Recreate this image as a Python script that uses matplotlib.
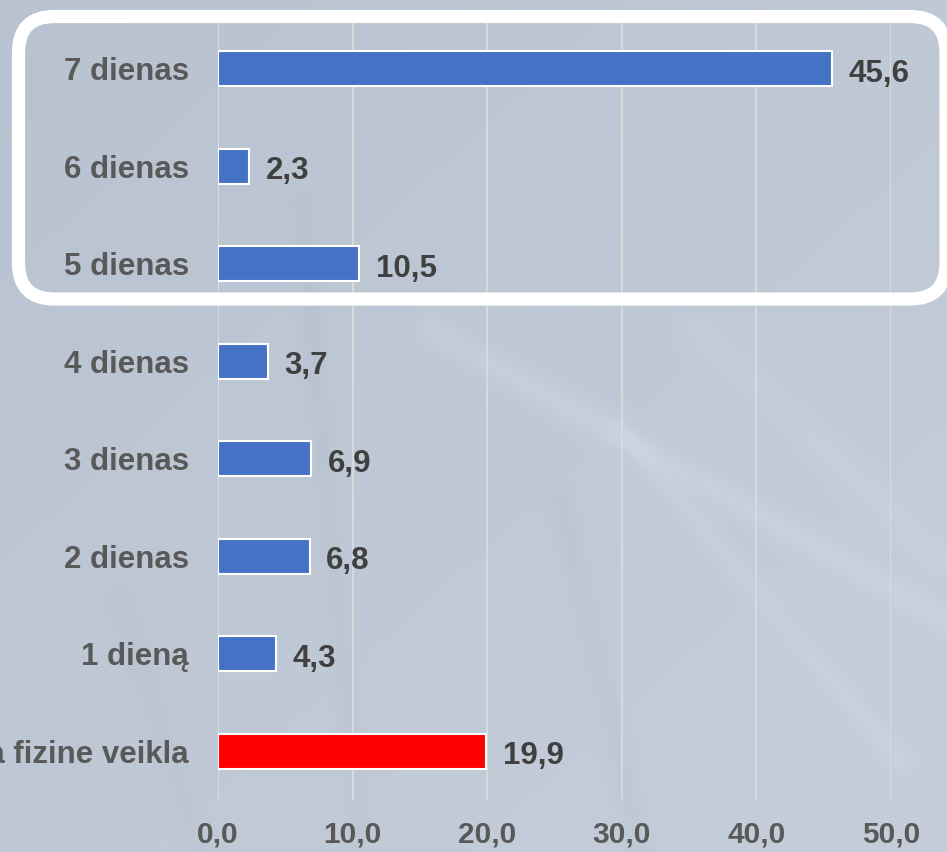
import numpy as np
import matplotlib
matplotlib.use("Agg")
import matplotlib.pyplot as plt
from matplotlib.patches import FancyBboxPatch

categories = ["Jokia fizine veikla", "1 dieną", "2 dienas", "3 dienas",
              "4 dienas", "5 dienas", "6 dienas", "7 dienas"]
values = [19.9, 4.3, 6.8, 6.9, 3.7, 10.5, 2.3, 45.6]
bar_colors = ["#FF0000"] + ["#4472C4"] * 7
xticks = [0, 10, 20, 30, 40, 50]
xtick_labels = ["0,0", "10,0", "20,0", "30,0", "40,0", "50,0"]

W, H = 947, 852
fig = plt.figure(figsize=(W / 100, H / 100), dpi=100)

# background (photo-like bluish grey)
bg = fig.add_axes([0, 0, 1, 1], zorder=-10)
yy, xx = np.mgrid[0:H, 0:W]
c1 = np.array([0.725, 0.761, 0.816])
c2 = np.array([0.775, 0.808, 0.858])
t = np.clip((xx / W) * 0.5 + (yy / H) * 0.5, 0, 1)[..., None]
base = c1 * (1 - t) + c2 * t
def streak(x0, y0, x1, y1, width, amp):
    global base
    px, py = xx - x0, yy - y0
    dx, dy = x1 - x0, y1 - y0
    L2 = dx * dx + dy * dy
    s = np.clip((px * dx + py * dy) / L2, 0, 1)
    d = np.hypot(px - s * dx, py - s * dy)
    base = base + amp * np.exp(-(d / width) ** 2)[..., None]
streak(430, 330, 947, 620, 14, 0.025)
streak(620, 430, 900, 760, 12, 0.018)
streak(700, 330, 940, 560, 18, 0.015)
streak(300, 200, 360, 850, 10, -0.015)
streak(120, 600, 200, 852, 14, -0.012)
streak(560, 500, 640, 852, 12, -0.015)
base = np.clip(base, 0, 1)
bg.imshow(base, extent=[0, W, H, 0], aspect="auto", interpolation="bilinear")
bg.set_axis_off()

ax = fig.add_axes([218 / W, (H - 800) / H, (891 - 218) / W, 780 / H])
ax.patch.set_alpha(0)
y = np.arange(len(categories))
ax.barh(y, values, height=0.36, color=bar_colors, edgecolor="white",
        linewidth=1.5, zorder=3)
for yi, v in zip(y, values):
    ax.text(v + 1.25, yi - 0.05, f"{v:.1f}".replace(".", ","), va="center",
            ha="left", fontsize=22.5, fontweight="bold", color="#404040",
            family="Liberation Sans", zorder=4)
ax.set_xlim(0, 50)
ax.set_ylim(-0.5, 7.5)
ax.set_yticks(y)
ax.set_yticklabels(categories, fontsize=22.5, fontweight="bold",
                   color="#595959", family="Liberation Sans")
ax.set_xticks(xticks)
ax.set_xticklabels(xtick_labels, fontsize=21.5, fontweight="bold",
                   color="#595959", family="Liberation Sans")
ax.tick_params(axis="y", length=0, pad=21)
ax.tick_params(axis="x", length=0, pad=15)
for s in ax.spines.values():
    s.set_visible(False)
ax.grid(axis="x", color="#D9D9D9", linewidth=1.5, zorder=0)
ax.set_axisbelow(True)

# rounded highlight frame
box = FancyBboxPatch((18.5 / 100, (H - 299) / 100), (946 - 18.5) / 100,
                     (299 - 16.5) / 100,
                     boxstyle="round,pad=0,rounding_size=0.36",
                     transform=fig.dpi_scale_trans, fill=False,
                     edgecolor="white", linewidth=9.5, zorder=20)
fig.add_artist(box)

fig.savefig("out.png", dpi=100)
